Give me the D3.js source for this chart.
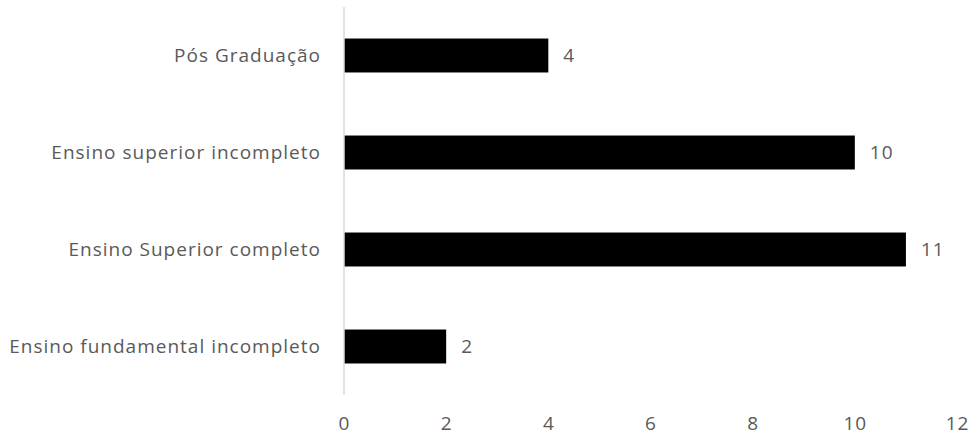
<!DOCTYPE html>
<html>
<head>
<meta charset="utf-8">
<script src="https://cdn.jsdelivr.net/npm/d3@7"></script>
<style>
  body { margin: 0; background: #fff; }
  svg text { font-family: "Open Sans", sans-serif; fill: #595959; letter-spacing: 1px; }
</style>
</head>
<body>
<div id="chart"></div>
<script>
// Escolaridade - horizontal bar chart
const categories = [
  "Pós Graduação",
  "Ensino superior incompleto",
  "Ensino Superior completo",
  "Ensino fundamental incompleto"
];
const values = [4, 10, 11, 2];
const xTicks = [0, 2, 4, 6, 8, 10, 12];

const width = 973;
const height = 436;
const margin = { top: 7, right: 16, bottom: 41, left: 344 };
const fontSize = "19px";

const data = categories.map((c, i) => ({ cat: c, value: values[i] }));

const svg = d3.select("#chart")
  .append("svg")
  .attr("width", width)
  .attr("height", height);

// Scales
const x = d3.scaleLinear()
  .domain([0, 12])
  .range([margin.left, width - margin.right]);

const y = d3.scaleBand()
  .domain(categories)
  .range([margin.top, height - margin.bottom])
  .paddingInner(0.65)
  .paddingOuter(0.325);

// Bars
svg.selectAll("rect.bar")
  .data(data)
  .enter()
  .append("rect")
  .attr("class", "bar")
  .attr("x", x(0))
  .attr("y", d => y(d.cat))
  .attr("width", d => x(d.value) - x(0))
  .attr("height", y.bandwidth())
  .attr("fill", "#000");

// Vertical axis line
svg.append("line")
  .attr("x1", x(0))
  .attr("x2", x(0))
  .attr("y1", margin.top)
  .attr("y2", height - margin.bottom)
  .attr("stroke", "#d9d9d9")
  .attr("stroke-width", 1.5);

// Category labels
svg.selectAll("text.cat")
  .data(data)
  .enter()
  .append("text")
  .attr("class", "cat")
  .attr("x", x(0) - 23)
  .attr("y", d => y(d.cat) + y.bandwidth() / 2)
  .attr("dy", "0.35em")
  .attr("text-anchor", "end")
  .style("font-size", fontSize)
  .text(d => d.cat);

// Value labels
svg.selectAll("text.val")
  .data(data)
  .enter()
  .append("text")
  .attr("class", "val")
  .attr("x", d => x(d.value) + 15)
  .attr("y", d => y(d.cat) + y.bandwidth() / 2)
  .attr("dy", "0.35em")
  .style("font-size", fontSize)
  .text(d => d.value);

// X tick labels
svg.selectAll("text.tick")
  .data(xTicks)
  .enter()
  .append("text")
  .attr("class", "tick")
  .attr("x", d => x(d) + 0.5)
  .attr("y", 423)
  .attr("dy", "0.35em")
  .attr("text-anchor", "middle")
  .style("font-size", fontSize)
  .text(d => d);
</script>
</body>
</html>
